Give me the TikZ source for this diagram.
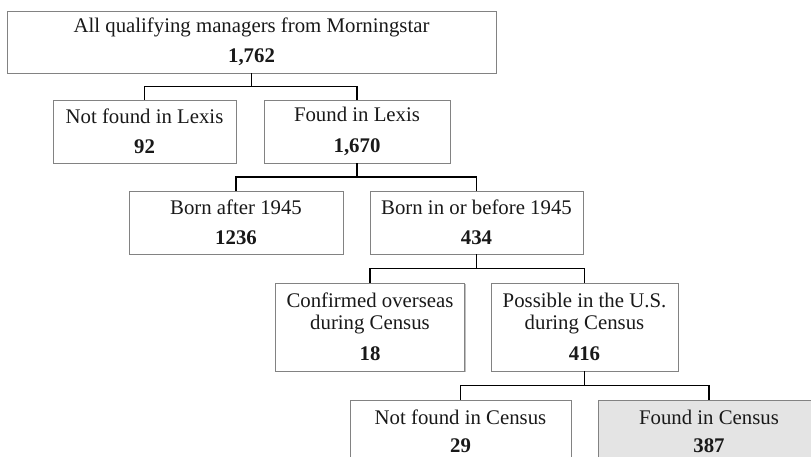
\documentclass[tikz,border=0pt]{standalone}
\usepackage{fontspec}
\setmainfont{Liberation Serif}
\usetikzlibrary{shadows,calc}
\definecolor{boxline}{RGB}{130,130,130}
\definecolor{txt}{RGB}{25,25,25}
\definecolor{grayfill}{RGB}{228,228,228}
\tikzset{
  box/.style={draw=boxline, line width=0.9pt, fill=white, rectangle, align=center,
    inner sep=0pt, text=txt, font=\fontsize{20.8}{22}\selectfont,
    drop shadow={shadow xshift=1.4pt, shadow yshift=-1.4pt, fill=black, opacity=0.25}},
  link/.style={draw=black, line width=1.8pt},
}
\newcommand{\num}[1]{\\[8.5pt]\textbf{#1}}
\newcommand{\numb}[1]{\\[6pt]\textbf{#1}}
\begin{document}
\begin{tikzpicture}[x=1pt, y=-1pt]
\clip (0,0) rectangle (811,456);
\fill[white] (0,0) rectangle (811,456);
\node[box, minimum width=489pt, minimum height=62pt] (top) at (251.5,42) {All qualifying managers from Morningstar\num{1,762}};
\node[box, minimum width=183pt, minimum height=63pt] (nfl) at (144.5,131.5) {Not found in Lexis\num{92}};
\node[box, minimum width=186pt, minimum height=63pt] (fl) at (357,131.5) {Found in Lexis\num{1,670}};
\node[box, minimum width=214pt, minimum height=63pt] (ba) at (236,222.5) {Born after 1945\num{1236}};
\node[box, minimum width=213pt, minimum height=63pt] (bb) at (476.5,222.5) {Born in or before 1945\num{434}};
\node[box, minimum width=188.5pt, minimum height=88pt] (co) at (370,327) {Confirmed overseas\\during Census\num{18}};
\node[box, minimum width=187pt, minimum height=88pt] (po) at (584.5,327) {Possible in the U.S.\\during Census\num{416}};
\node[box, minimum width=221pt, minimum height=63pt] (nc) at (460.5,431.5) {Not found in Census\numb{29}};
\node[box, fill=grayfill, minimum width=222pt, minimum height=63pt] (fc) at (709,431.5) {Found in Census\numb{387}};
\foreach \p/\c in {top/nfl, top/fl, fl/ba, fl/bb, bb/co, bb/po, po/nc, po/fc}{
  \draw[link] (\p.south) |- ($(\p.south)!.5!(\c.north)$) -| (\c.north);
}
\end{tikzpicture}
\end{document}
